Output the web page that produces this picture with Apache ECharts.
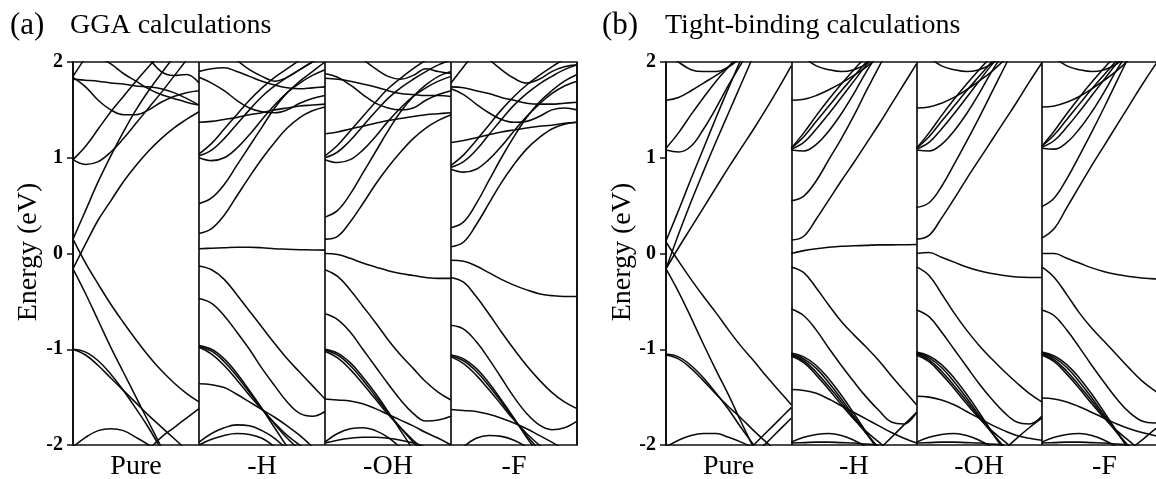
<!DOCTYPE html>
<html><head><meta charset="utf-8">
<script src="https://cdn.jsdelivr.net/npm/echarts@6/dist/echarts.min.js"></script>
<style>html,body{margin:0;padding:0;background:#fff}#c{width:1156px;height:479px}</style>
</head><body><div id="c"></div>
<script>
// k-path sample positions inside each sub-panel
const kPath = [0, 0.1, 0.2, 0.3, 0.4, 0.5, 0.6, 0.7, 0.8, 0.9, 1.0];
const categories = ['Pure', '-H', '-OH', '-F'];
const yTicks = [-2, -1, 0, 1, 2];
const N = null;

// (a) GGA bands, energies (eV) at kPath
const ggaPure = [
  [-0.16, 0.1, 0.35, 0.55, 0.75, 0.92, 1.07, 1.2, 1.31, 1.4, 1.48],
  [0.15, 0.45, 0.75, 1.02, 1.27, 1.5, 1.7, 1.88, 2.05, 2.2, 2.35],
  [0.98, 0.93, 0.96, 1.06, 1.2, 1.36, 1.52, 1.68, 1.85, 2.02, 2.2],
  [0.98, 1.12, 1.3, 1.48, 1.64, 1.8, 1.95, 2.1, 2.25, N, N],
  [1.84, 1.74, 1.6, 1.5, 1.45, 1.45, 1.5, 1.58, 1.64, 1.68, 1.7],
  [1.82, 1.81, 1.8, 1.78, 1.77, 1.75, 1.74, 1.72, 1.68, 1.62, 1.55],
  [N, N, 2.05, 1.98, 1.88, 1.8, 1.72, 1.66, 1.62, 1.58, 1.55],
  [1.85, 2.05, 2.25, N, N, N, N, N, N, N, N],
  [N, N, N, N, N, N, 2.05, 1.9, 1.86, 1.87, 1.78],
  [0.15, -0.1, -0.32, -0.53, -0.72, -0.9, -1.07, -1.22, -1.35, -1.46, -1.55],
  [-0.16, -0.42, -0.7, -0.98, -1.24, -1.5, -1.76, -2.02, N, N, N],
  [-1.0, -1.03, -1.12, -1.26, -1.43, -1.62, -1.82, -2.05, N, N, N],
  [-1.0, -1.06, -1.17, -1.3, -1.43, -1.56, -1.69, -1.81, -1.93, -2.05, N],
  [-2.02, -1.92, -1.85, -1.83, -1.85, -1.92, -2.0, -2.1, N, N, N],
  [N, N, N, N, N, N, -2.05, -1.92, -1.82, -1.72, -1.62]
];
const ggaH = [
  [0.05, 0.055, 0.06, 0.065, 0.065, 0.06, 0.05, 0.045, 0.04, 0.037, 0.035],
  [-0.13, -0.17, -0.27, -0.43, -0.6, -0.77, -0.94, -1.1, -1.24, -1.38, -1.52],
  [-0.47, -0.52, -0.65, -0.82, -1.0, -1.2, -1.38, -1.55, -1.67, -1.7, -1.65],
  [-0.96, -1.0, -1.1, -1.25, -1.43, -1.62, -1.82, -2.02, N, N, N],
  [-0.97, -1.02, -1.13, -1.28, -1.45, -1.62, -1.78, -1.93, -2.05, N, N],
  [-0.98, -1.05, -1.17, -1.32, -1.48, -1.63, -1.77, -1.9, -2.0, -2.1, N],
  [-1.36, -1.37, -1.4, -1.47, -1.55, -1.63, -1.71, -1.8, -1.9, -2.02, N],
  [-1.97, -1.88, -1.82, -1.79, -1.8, -1.85, -1.93, -2.05, N, N, N],
  [-2.0, -1.94, -1.9, -1.88, -1.89, -1.93, -2.02, N, N, N, N],
  [0.21, 0.26, 0.4, 0.6, 0.8, 0.99, 1.16, 1.31, 1.42, 1.49, 1.53],
  [0.52, 0.58, 0.72, 0.92, 1.12, 1.32, 1.52, 1.68, 1.8, 1.9, 2.0],
  [1.0, 0.97, 1.0, 1.1, 1.24, 1.4, 1.55, 1.68, 1.78, 1.86, 1.92],
  [1.02, 1.08, 1.2, 1.35, 1.5, 1.64, 1.75, 1.84, 1.92, 2.0, 2.05],
  [1.04, 1.15, 1.3, 1.45, 1.6, 1.73, 1.84, 1.93, 2.02, N, N],
  [1.37, 1.38, 1.4, 1.42, 1.45, 1.47, 1.5, 1.52, 1.54, 1.55, 1.56],
  [1.9, 1.93, 1.94, 1.9, 1.85, 1.8, 1.76, 1.73, 1.72, 1.73, 1.74],
  [1.84, 1.78, 1.7, 1.6, 1.52, 1.48, 1.47, 1.5, 1.57, 1.62, 1.65],
  [N, N, N, 2.02, 1.92, 1.85, 1.8, 1.84, 1.92, 2.0, N]
];
const ggaOH = [
  [0.0, -0.01, -0.05, -0.1, -0.14, -0.18, -0.21, -0.23, -0.25, -0.26, -0.26],
  [-0.17, -0.24, -0.38, -0.55, -0.72, -0.9, -1.06, -1.2, -1.34, -1.45, -1.53],
  [-0.63, -0.69, -0.82, -1.0, -1.18, -1.36, -1.53, -1.67, -1.75, -1.74, -1.7],
  [-1.0, -1.04, -1.14, -1.29, -1.46, -1.65, -1.85, -2.05, N, N, N],
  [-1.01, -1.06, -1.17, -1.32, -1.49, -1.66, -1.82, -1.97, -2.1, N, N],
  [-1.02, -1.09, -1.21, -1.36, -1.52, -1.68, -1.82, -1.95, -2.06, N, N],
  [-1.52, -1.53, -1.54, -1.57, -1.62, -1.68, -1.74, -1.8, -1.87, -1.93, -2.0],
  [-1.97, -1.88, -1.83, -1.82, -1.85, -1.92, -2.03, N, N, N, N],
  [-1.98, -1.95, -1.93, -1.92, -1.92, -1.93, -1.95, -1.98, -2.02, N, N],
  [0.15, 0.18, 0.33, 0.52, 0.72, 0.9, 1.06, 1.2, 1.31, 1.39, 1.45],
  [0.38, 0.45, 0.62, 0.84, 1.06, 1.28, 1.48, 1.64, 1.76, 1.85, 1.9],
  [0.98, 0.95, 0.98, 1.08, 1.22, 1.38, 1.52, 1.64, 1.73, 1.8, 1.85],
  [1.0, 1.06, 1.18, 1.33, 1.48, 1.62, 1.73, 1.82, 1.9, 1.97, 2.02],
  [1.02, 1.13, 1.28, 1.43, 1.58, 1.72, 1.83, 1.93, 2.02, N, N],
  [1.25, 1.27, 1.3, 1.33, 1.36, 1.39, 1.41, 1.43, 1.45, 1.46, 1.47],
  [1.83, 1.82, 1.8, 1.77, 1.74, 1.7, 1.67, 1.66, 1.65, 1.65, 1.64],
  [1.88, 1.84, 1.76, 1.66, 1.57, 1.52, 1.5, 1.52, 1.6, 1.66, 1.7],
  [N, N, N, 2.03, 1.93, 1.85, 1.82, 1.86, 1.93, 1.9, 1.88]
];
const ggaF = [
  [-0.07, -0.08, -0.13, -0.2, -0.27, -0.33, -0.38, -0.42, -0.44, -0.45, -0.45],
  [-0.25, -0.3, -0.45, -0.63, -0.82, -1.0, -1.17, -1.32, -1.45, -1.55, -1.62],
  [-0.75, -0.79, -0.92, -1.1, -1.3, -1.5, -1.67, -1.79, -1.84, -1.82, -1.75],
  [-1.06, -1.1, -1.2, -1.35, -1.53, -1.72, -1.92, -2.1, N, N, N],
  [-1.07, -1.12, -1.23, -1.38, -1.55, -1.73, -1.9, -2.05, N, N, N],
  [-1.08, -1.15, -1.27, -1.42, -1.58, -1.74, -1.88, -2.0, -2.1, N, N],
  [-1.63, -1.64, -1.65, -1.68, -1.72, -1.77, -1.83, -1.9, -1.97, -2.05, N],
  [N, -2.02, -1.93, -1.9, -1.91, -1.95, -2.02, N, N, N, N],
  [0.07, 0.12, 0.3, 0.52, 0.74, 0.93, 1.09, 1.21, 1.3, 1.35, 1.37],
  [0.27, 0.33, 0.52, 0.76, 1.0, 1.22, 1.42, 1.58, 1.7, 1.8, 1.87],
  [0.88, 0.85, 0.88, 0.98, 1.12, 1.28, 1.43, 1.56, 1.67, 1.75, 1.8],
  [0.9, 0.96, 1.08, 1.24, 1.4, 1.55, 1.67, 1.77, 1.85, 1.92, 1.97],
  [0.92, 1.03, 1.18, 1.34, 1.5, 1.64, 1.76, 1.86, 1.95, 2.03, N],
  [1.16, 1.18, 1.21, 1.24, 1.27, 1.29, 1.31, 1.33, 1.34, 1.36, 1.37],
  [1.74, 1.73, 1.7, 1.67, 1.63, 1.6, 1.57, 1.56, 1.56, 1.57, 1.58],
  [1.72, 1.66, 1.56, 1.47, 1.4, 1.37, 1.38, 1.43, 1.5, 1.52, 1.5],
  [N, N, N, 2.03, 1.92, 1.83, 1.78, 1.82, 1.9, 1.95, 1.97],
  [1.78, 1.95, 2.12, N, N, N, N, N, N, N, N]
];

// (b) Tight-binding bands
const tbPure = [
  [0.13, 0.45, 0.78, 1.1, 1.42, 1.73, 2.03, 2.3, N, N, N],
  [-0.16, 0.2, 0.54, 0.86, 1.17, 1.47, 1.77, 2.07, N, N, N],
  [-0.16, 0.06, 0.27, 0.48, 0.69, 0.9, 1.1, 1.3, 1.51, 1.73, 1.96],
  [0.12, -0.08, -0.27, -0.45, -0.62, -0.8, -0.97, -1.12, -1.28, -1.43, -1.58],
  [-0.16, -0.4, -0.67, -0.95, -1.22, -1.48, -1.76, -2.03, N, N, N],
  [-1.05, -1.08, -1.17, -1.3, -1.46, -1.63, -1.82, -2.0, N, N, N],
  [-1.06, -1.1, -1.2, -1.33, -1.47, -1.6, -1.72, -1.85, -1.97, -2.08, N],
  [-2.02, -1.95, -1.9, -1.88, -1.88, -1.92, -1.97, -2.03, N, N, N],
  [N, N, N, N, N, N, -2.13, -2.0, -1.87, -1.74, -1.61],
  [N, N, N, N, N, N, N, -2.1, -1.98, -1.85, -1.72],
  [1.08, 1.06, 1.12, 1.3, 1.52, 1.76, 1.98, 2.2, N, N, N],
  [1.1, 1.26, 1.45, 1.63, 1.8, 1.95, 2.1, N, N, N, N],
  [1.6, 1.63, 1.7, 1.78, 1.86, 1.95, 2.05, N, N, N, N],
  [2.1, 2.0, 1.92, 1.9, 1.9, 1.95, 2.05, N, N, N, N]
];
const tbH = [
  [0.0, 0.03, 0.05, 0.065, 0.075, 0.08, 0.085, 0.09, 0.09, 0.092, 0.093],
  [-0.14, -0.2, -0.36, -0.54, -0.71, -0.85, -0.98, -1.12, -1.28, -1.43, -1.58],
  [-0.58, -0.65, -0.8, -0.99, -1.17, -1.34, -1.5, -1.64, -1.76, -1.78, -1.66],
  [-1.04, -1.08, -1.17, -1.31, -1.48, -1.67, -1.87, -2.07, N, N, N],
  [-1.05, -1.1, -1.2, -1.35, -1.52, -1.7, -1.88, -2.05, N, N, N],
  [-1.06, -1.12, -1.24, -1.39, -1.55, -1.72, -1.88, -2.03, N, N, N],
  [-1.07, -1.14, -1.27, -1.42, -1.58, -1.73, -1.86, -1.97, -2.08, N, N],
  [-1.42, -1.43, -1.46, -1.52, -1.59, -1.66, -1.73, -1.8, -1.87, -1.93, -1.98],
  [-1.97, -1.92, -1.89, -1.88, -1.9, -1.95, -2.02, N, N, N, N],
  [-1.98, -1.975, -1.97, -1.97, -1.975, -1.98, -1.99, -2.0, N, N, N],
  [N, N, N, N, N, N, -2.18, -2.05, -1.92, -1.79, -1.66],
  [0.14, 0.18, 0.36, 0.56, 0.76, 0.95, 1.15, 1.35, 1.56, 1.77, 1.98],
  [0.55, 0.6, 0.76, 0.98, 1.2, 1.44, 1.7, 1.95, 2.2, N, N],
  [1.08, 1.07, 1.14, 1.28, 1.46, 1.67, 1.9, 2.1, N, N, N],
  [1.09, 1.16, 1.3, 1.46, 1.63, 1.8, 1.97, 2.12, N, N, N],
  [1.1, 1.22, 1.38, 1.54, 1.7, 1.85, 2.0, 2.15, N, N, N],
  [1.1, 1.26, 1.44, 1.61, 1.77, 1.92, 2.06, N, N, N, N],
  [1.6, 1.61, 1.65, 1.71, 1.78, 1.86, 1.95, 2.06, N, N, N],
  [N, 2.05, 1.96, 1.92, 1.9, 1.92, 1.98, 2.1, N, N, N]
];
const tbOH = [
  [0.0, 0.01, -0.04, -0.09, -0.14, -0.18, -0.21, -0.23, -0.245, -0.25, -0.25],
  [-0.14, -0.23, -0.42, -0.62, -0.8, -0.96, -1.1, -1.23, -1.35, -1.46, -1.55],
  [-0.59, -0.66, -0.82, -1.0, -1.18, -1.36, -1.52, -1.66, -1.76, -1.78, -1.7],
  [-1.03, -1.07, -1.16, -1.3, -1.47, -1.66, -1.86, -2.06, N, N, N],
  [-1.04, -1.09, -1.19, -1.34, -1.51, -1.69, -1.87, -2.04, N, N, N],
  [-1.05, -1.11, -1.23, -1.38, -1.54, -1.71, -1.87, -2.02, N, N, N],
  [-1.06, -1.13, -1.26, -1.41, -1.57, -1.72, -1.85, -1.96, -2.07, N, N],
  [-1.49, -1.5, -1.53, -1.58, -1.65, -1.72, -1.79, -1.85, -1.9, -1.93, -1.95],
  [-1.97, -1.92, -1.89, -1.88, -1.9, -1.95, -2.02, N, N, N, N],
  [-1.98, -1.975, -1.97, -1.97, -1.975, -1.98, -1.99, -2.0, N, N, N],
  [N, N, N, N, N, N, -2.18, -2.05, -1.93, -1.82, -1.72],
  [0.15, 0.19, 0.37, 0.57, 0.78, 0.98, 1.18, 1.38, 1.58, 1.79, 1.99],
  [0.48, 0.53, 0.7, 0.93, 1.17, 1.42, 1.68, 1.94, 2.2, N, N],
  [1.08, 1.07, 1.14, 1.28, 1.46, 1.67, 1.9, 2.1, N, N, N],
  [1.09, 1.16, 1.3, 1.46, 1.63, 1.8, 1.97, 2.12, N, N, N],
  [1.1, 1.22, 1.38, 1.54, 1.7, 1.85, 2.0, 2.15, N, N, N],
  [1.1, 1.26, 1.44, 1.61, 1.77, 1.92, 2.06, N, N, N, N],
  [1.52, 1.53, 1.57, 1.63, 1.71, 1.8, 1.9, 2.02, N, N, N],
  [N, 2.05, 1.96, 1.92, 1.9, 1.92, 1.98, 2.1, N, N, N]
];
const tbF = [
  [0.0, 0.0, -0.05, -0.1, -0.15, -0.19, -0.22, -0.24, -0.255, -0.265, -0.27],
  [-0.14, -0.25, -0.43, -0.62, -0.78, -0.92, -1.06, -1.2, -1.33, -1.43, -1.52],
  [-0.59, -0.65, -0.8, -0.98, -1.17, -1.35, -1.52, -1.66, -1.75, -1.77, -1.72],
  [-1.03, -1.07, -1.16, -1.3, -1.47, -1.66, -1.86, -2.06, N, N, N],
  [-1.04, -1.09, -1.19, -1.34, -1.51, -1.69, -1.87, -2.04, N, N, N],
  [-1.05, -1.11, -1.23, -1.38, -1.54, -1.71, -1.87, -2.02, N, N, N],
  [-1.06, -1.13, -1.26, -1.41, -1.57, -1.72, -1.85, -1.96, -2.07, N, N],
  [-1.51, -1.52, -1.55, -1.6, -1.66, -1.72, -1.78, -1.83, -1.87, -1.9, -1.92],
  [-1.97, -1.92, -1.89, -1.88, -1.9, -1.95, -2.02, N, N, N, N],
  [-1.98, -1.975, -1.97, -1.97, -1.975, -1.98, -1.99, -2.0, N, N, N],
  [N, N, N, N, N, N, -2.15, -2.05, -1.95, -1.84, -1.74],
  [0.16, 0.26, 0.48, 0.7, 0.92, 1.13, 1.34, 1.55, 1.76, 1.96, 2.15],
  [0.49, 0.58, 0.78, 1.02, 1.27, 1.53, 1.8, 2.07, N, N, N],
  [1.1, 1.09, 1.16, 1.3, 1.48, 1.69, 1.92, 2.12, N, N, N],
  [1.11, 1.18, 1.32, 1.48, 1.65, 1.82, 1.99, 2.14, N, N, N],
  [1.12, 1.24, 1.4, 1.56, 1.72, 1.87, 2.02, N, N, N, N],
  [1.12, 1.28, 1.46, 1.63, 1.79, 1.94, 2.08, N, N, N, N],
  [1.53, 1.54, 1.58, 1.64, 1.72, 1.81, 1.91, 2.03, N, N, N],
  [N, 2.05, 1.96, 1.92, 1.9, 1.92, 1.98, 2.1, N, N, N]
];

const panels = [
  { bands: [ggaPure, ggaH, ggaOH, ggaF], label: '(a)', title: 'GGA calculations' },
  { bands: [tbPure, tbH, tbOH, tbF], label: '(b)', title: 'Tight-binding calculations' }
];

const FONT = "'Liberation Serif', 'DejaVu Serif', serif";
const grids = [
  { left: 73, top: 62, width: 504, height: 383 },
  { left: 666, top: 62, width: 501, height: 383 }
];

const xAxes = [], yAxes = [], series = [];
grids.forEach((g, p) => {
  xAxes.push({
    gridIndex: p, type: 'value', min: 0, max: 4, interval: 1, position: 'top',
    axisLine: { show: false }, axisTick: { show: false }, axisLabel: { show: false },
    splitLine: { show: true, lineStyle: { color: '#111', width: 1.7 } }
  });
  xAxes.push({
    gridIndex: p, type: 'category', data: categories, position: 'bottom',
    axisLine: { show: false }, axisTick: { show: false }, splitLine: { show: false },
    axisLabel: { fontFamily: FONT, fontSize: 28, color: '#000', margin: 8 }
  });
  yAxes.push({
    gridIndex: p, type: 'value', min: yTicks[0], max: yTicks[yTicks.length - 1], interval: 1,
    axisLine: { show: true, lineStyle: { color: '#111', width: 1.7 } },
    axisTick: { show: true, length: 6, lineStyle: { color: '#111', width: 1.5 } },
    splitLine: { show: false },
    axisLabel: { fontFamily: FONT, fontSize: 20, fontWeight: 'bold', color: '#000', margin: 10 }
  });
  panels[p].bands.forEach((bands, j) => {
    bands.forEach(b => {
      series.push({
        type: 'line', xAxisIndex: p * 2, yAxisIndex: p,
        data: b.map((e, i) => [j + kPath[i], e === null ? '-' : e]),
        showSymbol: false, symbol: 'none', smooth: 0.4, clip: true, silent: true,
        lineStyle: { color: '#0a0a0a', width: 1.55 }, z: 3
      });
    });
  });
});

const chart = echarts.init(document.getElementById('c'), null, { renderer: 'canvas' });
chart.setOption({
  animation: false,
  backgroundColor: '#fff',
  grid: grids.map(g => Object.assign({ show: true, borderColor: '#111', borderWidth: 1.7, backgroundColor: 'transparent', containLabel: false, outerBoundsMode: 'none' }, g)),
  xAxis: xAxes,
  yAxis: yAxes,
  series: series,
  graphic: [
    { type: 'text', x: 10, y: 26, style: { text: panels[0].label, font: '31px ' + FONT, fill: '#000', align: 'left', verticalAlign: 'middle' } },
    { type: 'text', x: 70, y: 26, style: { text: panels[0].title, font: '28px ' + FONT, fill: '#000', align: 'left', verticalAlign: 'middle' } },
    { type: 'text', x: 602, y: 26, style: { text: panels[1].label, font: '31px ' + FONT, fill: '#000', align: 'left', verticalAlign: 'middle' } },
    { type: 'text', x: 665, y: 26, style: { text: panels[1].title, font: '28px ' + FONT, fill: '#000', align: 'left', verticalAlign: 'middle' } },
    { type: 'text', x: 29, y: 252, rotation: Math.PI / 2, style: { text: 'Energy (eV)', font: '28px ' + FONT, fill: '#000', align: 'center', verticalAlign: 'middle' } },
    { type: 'text', x: 623, y: 252, rotation: Math.PI / 2, style: { text: 'Energy (eV)', font: '28px ' + FONT, fill: '#000', align: 'center', verticalAlign: 'middle' } }
  ]
});
</script>
</body></html>
